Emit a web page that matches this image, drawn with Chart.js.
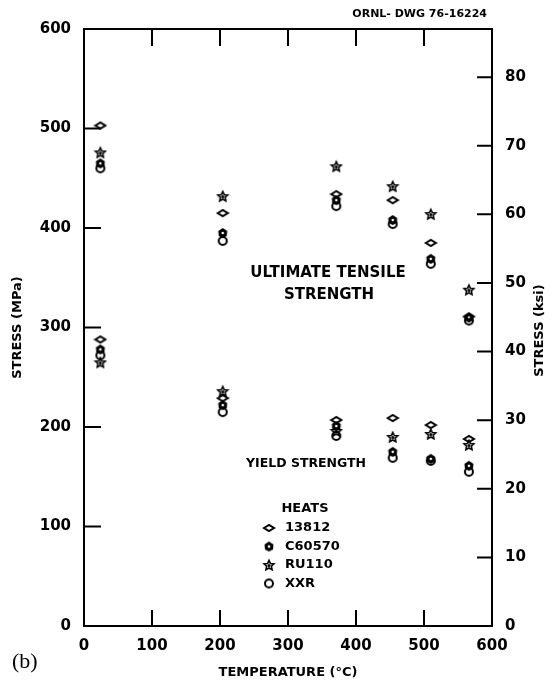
<!DOCTYPE html>
<html lang="en">
<head>
    <meta charset="UTF-8">
    <title>Stress vs Temperature - Heats</title>
    <script src="https://cdn.jsdelivr.net/npm/chart.js@4.4.1/dist/chart.umd.min.js"></script>
    <style>
        body {
            margin: 0;
            background: #ffffff;
        }
        .wrap {
            width: 553px;
            height: 683px;
        }
    </style>
</head>
<body>
    <div class="wrap">
        <canvas id="stressChart" width="553" height="683"></canvas>
    </div>

    <script>
        // Test temperatures (°C)
        const temperatures = [24, 204, 371, 454, 510, 566];

        // Ultimate tensile strength (MPa) per heat
        const uts13812  = [503, 415, 434, 428, 385, 311];
        const utsC60570 = [465, 395, 428, 408, 369, 310];
        const utsRU110  = [476, 432, 462, 442, 414, 338];
        const utsXXR    = [460, 387, 422, 404, 364, 307];

        // Yield strength (MPa) per heat
        const ys13812  = [288, 229, 207, 209, 202, 188];
        const ysC60570 = [278, 222, 201, 175, 168, 161];
        const ysRU110  = [265, 236, 196, 190, 193, 182];
        const ysXXR    = [272, 215, 191, 169, 166, 155];

        const heatNames = ['13812', 'C60570', 'RU110', 'XXR'];

        // Axis ticks
        const tempTicks = [0, 100, 200, 300, 400, 500, 600];
        const mpaTicks = [0, 100, 200, 300, 400, 500, 600];
        const ksiTicks = [0, 10, 20, 30, 40, 50, 60, 70, 80];
        const MPA_PER_KSI = 6.895;

        const FONT = '"DejaVu Sans", sans-serif';

        // small marker images used as point styles
        function makeMarker(draw) {
            const c = document.createElement('canvas');
            c.width = 14;
            c.height = 14;
            const g = c.getContext('2d');
            g.strokeStyle = '#000';
            g.fillStyle = '#000';
            g.lineWidth = 2;
            draw(g);
            return c;
        }

        const markerDiamond = makeMarker(g => {
            g.beginPath();
            g.moveTo(2, 7);
            g.lineTo(7, 4);
            g.lineTo(12, 7);
            g.lineTo(7, 10);
            g.closePath();
            g.stroke();
        });

        const markerShield = makeMarker(g => {
            g.beginPath();
            g.moveTo(7, 2);
            g.lineTo(11.5, 5);
            g.lineTo(11, 10);
            g.lineTo(7, 12);
            g.lineTo(3, 10);
            g.lineTo(2.5, 5);
            g.closePath();
            g.fill();
            g.fillStyle = '#fff';
            g.beginPath();
            g.arc(7, 7, 1.3, 0, Math.PI * 2);
            g.fill();
        });

        const markerStar = makeMarker(g => {
            g.beginPath();
            for (let i = 0; i < 10; i++) {
                const r = i % 2 === 0 ? 5.2 : 2.5;
                const a = -Math.PI / 2 + i * Math.PI / 5;
                const px = 7 + r * Math.cos(a);
                const py = 7.5 + r * Math.sin(a);
                if (i === 0) g.moveTo(px, py); else g.lineTo(px, py);
            }
            g.closePath();
            g.lineWidth = 1.6;
            g.stroke();
            g.beginPath();
            g.arc(7, 7.5, 1.5, 0, Math.PI * 2);
            g.fill();
        });

        const markerCircle = makeMarker(g => {
            g.beginPath();
            g.arc(7, 7, 4, 0, Math.PI * 2);
            g.stroke();
        });

        const markers = [markerDiamond, markerShield, markerStar, markerCircle];

        function points(uts, ys) {
            const pts = [];
            temperatures.forEach((t, i) => pts.push({x: t, y: uts[i]}));
            temperatures.forEach((t, i) => pts.push({x: t, y: ys[i]}));
            return pts;
        }

        const heatData = [
            points(uts13812, ys13812),
            points(utsC60570, ysC60570),
            points(utsRU110, ysRU110),
            points(utsXXR, ysXXR)
        ];

        // draw frame, inward ticks and text labels
        const decorPlugin = {
            id: 'decor',
            afterDraw(chart) {
                const ctx = chart.ctx;
                const area = chart.chartArea;
                const xs = chart.scales.x;
                const ys = chart.scales.y;
                const ks = chart.scales.y2;
                ctx.save();
                ctx.strokeStyle = '#000';
                ctx.lineWidth = 2;
                ctx.strokeRect(area.left, area.top, area.right - area.left, area.bottom - area.top);

                ctx.beginPath();
                tempTicks.forEach(v => {
                    const px = xs.getPixelForValue(v);
                    ctx.moveTo(px, area.bottom);
                    ctx.lineTo(px, area.bottom - 16);
                    ctx.moveTo(px, area.top);
                    ctx.lineTo(px, area.top + 17);
                });
                mpaTicks.forEach(v => {
                    const py = ys.getPixelForValue(v);
                    ctx.moveTo(area.left, py);
                    ctx.lineTo(area.left + 17, py);
                });
                ksiTicks.forEach(v => {
                    const py = ks.getPixelForValue(v);
                    ctx.moveTo(area.right, py);
                    ctx.lineTo(area.right - 15, py);
                });
                ctx.stroke();

                ctx.fillStyle = '#000';
                ctx.textBaseline = 'middle';

                ctx.font = 'bold 11px ' + FONT;
                ctx.textAlign = 'right';
                ctx.fillText('ORNL- DWG 76-16224', 487, 14);

                ctx.textAlign = 'center';
                ctx.font = 'bold 15px ' + FONT;
                ctx.fillText('ULTIMATE TENSILE', 328, 273);
                ctx.fillText('STRENGTH', 329, 295);

                ctx.font = 'bold 12.5px ' + FONT;
                ctx.fillText('YIELD STRENGTH', 306, 464);

                ctx.font = 'bold 13px ' + FONT;
                ctx.fillText('HEATS', 305, 509);
                ctx.textAlign = 'left';
                heatNames.forEach((name, i) => {
                    const yy = 528 + i * 18.5;
                    const m = markers[i];
                    ctx.drawImage(m, 269 - m.width / 2, yy - m.height / 2);
                    ctx.fillText(name, 285, yy);
                });

                // right axis title reads bottom to top like the left one
                ctx.save();
                ctx.translate(540, (area.top + area.bottom) / 2 + 3);
                ctx.rotate(-Math.PI / 2);
                ctx.textAlign = 'center';
                ctx.font = 'bold 13px ' + FONT;
                ctx.fillText('STRESS (ksi)', 0, 0);
                ctx.restore();

                ctx.font = '22px "Liberation Serif", serif';
                ctx.fillText('(b)', 12, 662);
                ctx.restore();
            }
        };

        new Chart(document.getElementById('stressChart'), {
            type: 'scatter',
            data: {
                datasets: heatData.map((d, i) => ({
                    label: heatNames[i],
                    data: d,
                    pointStyle: markers[i],
                    pointRadius: 5,
                    showLine: false
                }))
            },
            options: {
                responsive: false,
                animation: false,
                layout: {
                    padding: {top: 29, left: 0, right: 0, bottom: 0}
                },
                plugins: {
                    legend: {display: false},
                    tooltip: {enabled: false}
                },
                scales: {
                    x: {
                        type: 'linear',
                        min: 0,
                        max: 600,
                        afterBuildTicks: s => { s.ticks = tempTicks.map(v => ({value: v})); },
                        afterFit: s => { s.height = 57; },
                        grid: {display: false, drawTicks: false},
                        border: {display: false},
                        ticks: {
                            padding: 11,
                            color: '#000',
                            font: {family: FONT, size: 15, weight: 'bold'}
                        },
                        title: {
                            display: true,
                            text: 'TEMPERATURE (°C)',
                            color: '#000',
                            padding: {top: 0, bottom: 3},
                            font: {family: FONT, size: 13, weight: 'bold'}
                        }
                    },
                    y: {
                        type: 'linear',
                        position: 'left',
                        min: 0,
                        max: 600,
                        afterBuildTicks: s => { s.ticks = mpaTicks.map(v => ({value: v})); },
                        afterFit: s => { s.width = 84; },
                        grid: {display: false, drawTicks: false},
                        border: {display: false},
                        ticks: {
                            padding: 13,
                            color: '#000',
                            font: {family: FONT, size: 15, weight: 'bold'}
                        },
                        title: {
                            display: true,
                            text: 'STRESS (MPa)',
                            color: '#000',
                            padding: {top: 10, bottom: 0},
                            font: {family: FONT, size: 13, weight: 'bold'}
                        }
                    },
                    y2: {
                        type: 'linear',
                        position: 'right',
                        min: 0,
                        max: 600 / MPA_PER_KSI,
                        afterBuildTicks: s => { s.ticks = ksiTicks.map(v => ({value: v})); },
                        afterFit: s => { s.width = 61; },
                        grid: {display: false, drawTicks: false},
                        border: {display: false},
                        ticks: {
                            padding: 13,
                            color: '#000',
                            font: {family: FONT, size: 15, weight: 'bold'}
                        },
                        title: {display: false}
                    }
                }
            },
            plugins: [decorPlugin]
        });
    </script>
</body>
</html>
